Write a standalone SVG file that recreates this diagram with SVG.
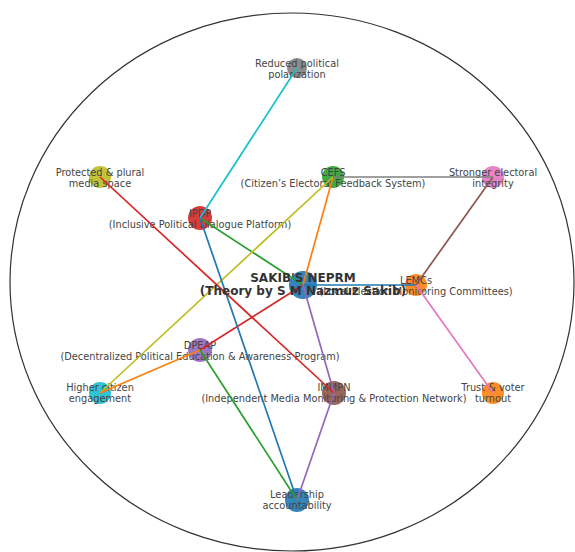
<svg xmlns="http://www.w3.org/2000/svg" width="575" height="552" viewBox="0 0 575 552">
<style>
.n{opacity:0.9}
.t{font-family:"DejaVu Sans","Liberation Sans",sans-serif;font-size:9.8px;fill:#444;text-anchor:middle}
.b{font-family:"DejaVu Sans","Liberation Sans",sans-serif;font-size:12px;font-weight:bold;fill:#333;text-anchor:middle}
#edges line{stroke-width:1.7;fill:none}
</style>
<rect width="575" height="552" fill="#fff"/>
<ellipse cx="292" cy="282" rx="282" ry="269" fill="none" stroke="#333" stroke-width="1.2"/>
<g id="nodes">
<g id="center"><circle class="n" cx="303" cy="285" r="14" fill="#1f77b4"/></g>
<g id="reduced"><circle class="n" cx="297" cy="68" r="10" fill="#7f7f7f"/><text class="t" x="297" y="67">Reduced political</text><text class="t" x="297" y="78">polarization</text></g>
<g id="cefs"><circle class="n" cx="333" cy="177" r="11" fill="#2ca02c"/><text class="t" x="333" y="176">CEFS</text><text class="t" x="333" y="187">(Citizen’s Electoral Feedback System)</text></g>
<g id="stronger"><circle class="n" cx="493" cy="177" r="11" fill="#e377c2"/><text class="t" x="493" y="176">Stronger electoral</text><text class="t" x="493" y="187">integrity</text></g>
<g id="protected"><circle class="n" cx="100" cy="177" r="11" fill="#bcbd22"/><text class="t" x="100" y="176">Protected &amp; plural</text><text class="t" x="100" y="187">media space</text></g>
<g id="ipdp"><circle class="n" cx="200" cy="218" r="12" fill="#d62728"/><text class="t" x="200" y="217">IPDP</text><text class="t" x="200" y="228">(Inclusive Political Dialogue Platform)</text></g>
<g id="lemcs"><circle class="n" cx="416" cy="285" r="11" fill="#ff7f0e"/><text class="t" x="416" y="284">LEMCs</text><text class="t" x="416" y="295">(Local Election Monitoring Committees)</text></g>
<g id="dpeap"><circle class="n" cx="200" cy="350" r="12" fill="#9467bd"/><text class="t" x="200" y="349">DPEAP</text><text class="t" x="200" y="360">(Decentralized Political Education &amp; Awareness Program)</text></g>
<g id="higher"><circle class="n" cx="100" cy="393" r="11" fill="#17becf"/><text class="t" x="100" y="391">Higher citizen</text><text class="t" x="100" y="402">engagement</text></g>
<g id="immpn"><circle class="n" cx="334" cy="393" r="12" fill="#8c564b"/><text class="t" x="334" y="391">IMMPN</text><text class="t" x="334" y="402">(Independent Media Monitoring &amp; Protection Network)</text></g>
<g id="trust"><circle class="n" cx="493" cy="393" r="11" fill="#ff7f0e"/><text class="t" x="493" y="391">Trust &amp; voter</text><text class="t" x="493" y="402">turnout</text></g>
<g id="leadership"><circle class="n" cx="297" cy="500" r="12" fill="#1f77b4"/><text class="t" x="297" y="498">Leadership</text><text class="t" x="297" y="509">accountability</text></g>
</g>
<g id="edges">
<line x1="303" y1="285" x2="416" y2="285" stroke="#1f77b4"/>
<line x1="303" y1="285" x2="333" y2="177" stroke="#ff7f0e"/>
<line x1="303" y1="285" x2="200" y2="218" stroke="#2ca02c"/>
<line x1="303" y1="285" x2="200" y2="350" stroke="#d62728"/>
<line x1="303" y1="285" x2="334" y2="393" stroke="#9467bd"/>
<line x1="416" y1="285" x2="493" y2="177" stroke="#8c564b"/>
<line x1="416" y1="285" x2="493" y2="393" stroke="#e377c2"/>
<line x1="333" y1="177" x2="493" y2="177" stroke="#7f7f7f"/>
<line x1="333" y1="177" x2="100" y2="393" stroke="#bcbd22"/>
<line x1="200" y1="218" x2="297" y2="68" stroke="#17becf"/>
<line x1="200" y1="218" x2="297" y2="500" stroke="#1f77b4"/>
<line x1="200" y1="350" x2="100" y2="393" stroke="#ff7f0e"/>
<line x1="200" y1="350" x2="297" y2="500" stroke="#2ca02c"/>
<line x1="334" y1="393" x2="100" y2="177" stroke="#d62728"/>
<line x1="334" y1="393" x2="297" y2="500" stroke="#9467bd"/>
</g>
<g id="title"><text class="b" x="303" y="282">SAKIB'S NEPRM</text><text class="b" x="303" y="295">(Theory by S M Nazmuz Sakib)</text></g>
</svg>
